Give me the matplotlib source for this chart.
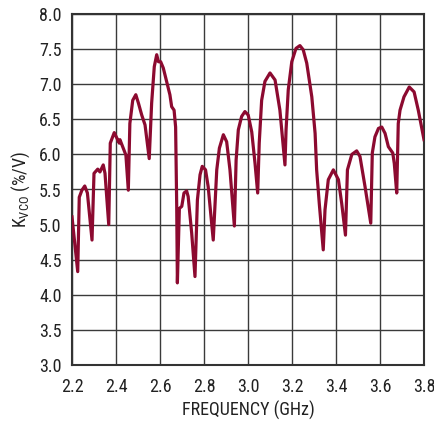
import matplotlib
matplotlib.use("Agg")
import matplotlib.pyplot as plt

freq_ghz = [2.200, 2.226, 2.233, 2.245, 2.258, 2.270, 2.291, 2.300, 2.317, 2.327,
            2.342, 2.350, 2.367, 2.374, 2.392, 2.415, 2.418, 2.445, 2.456, 2.463,
            2.476, 2.490, 2.502, 2.517, 2.532, 2.551, 2.562, 2.574, 2.585, 2.593,
            2.603, 2.615, 2.630, 2.645, 2.653, 2.664, 2.671, 2.676, 2.679, 2.688,
            2.699, 2.709, 2.721, 2.728, 2.744, 2.759, 2.770, 2.782, 2.792, 2.807,
            2.819, 2.842, 2.858, 2.870, 2.888, 2.903, 2.918, 2.938, 2.946, 2.956,
            2.971, 2.986, 3.001, 3.017, 3.032, 3.044, 3.051, 3.062, 3.077, 3.100,
            3.123, 3.145, 3.168, 3.173, 3.183, 3.199, 3.218, 3.236, 3.251, 3.267,
            3.290, 3.305, 3.312, 3.324, 3.342, 3.350, 3.365, 3.388, 3.411, 3.426,
            3.443, 3.452, 3.472, 3.494, 3.509, 3.532, 3.558, 3.565, 3.577, 3.593,
            3.608, 3.623, 3.638, 3.658, 3.665, 3.676, 3.683, 3.691, 3.709, 3.733,
            3.755, 3.774, 3.800]
kvco = [5.11, 4.33, 5.39, 5.49, 5.55, 5.45, 4.78, 5.73, 5.79, 5.75,
        5.85, 5.73, 5.00, 6.16, 6.31, 6.16, 6.21, 5.99, 5.49, 6.44,
        6.77, 6.85, 6.73, 6.56, 6.42, 5.94, 6.73, 7.25, 7.42, 7.32,
        7.32, 7.23, 7.04, 6.85, 6.68, 6.63, 6.39, 5.25, 4.17, 5.23,
        5.26, 5.45, 5.48, 5.40, 4.88, 4.26, 5.35, 5.71, 5.83, 5.78,
        5.54, 4.78, 5.78, 6.09, 6.28, 6.18, 5.78, 4.98, 5.92, 6.35,
        6.54, 6.61, 6.56, 6.32, 5.87, 5.45, 6.16, 6.77, 7.04, 7.16,
        7.06, 6.63, 5.85, 6.35, 6.92, 7.32, 7.51, 7.55, 7.49, 7.30,
        6.82, 6.30, 5.78, 5.30, 4.64, 5.21, 5.64, 5.78, 5.64, 5.30,
        4.85, 5.78, 6.00, 6.05, 5.97, 5.54, 5.02, 6.02, 6.25, 6.37,
        6.39, 6.30, 6.11, 6.02, 5.87, 5.45, 6.44, 6.63, 6.82, 6.96,
        6.89, 6.63, 6.21]

x_ticks = [2.2, 2.4, 2.6, 2.8, 3.0, 3.2, 3.4, 3.6, 3.8]
y_ticks = [3.0, 3.5, 4.0, 4.5, 5.0, 5.5, 6.0, 6.5, 7.0, 7.5, 8.0]

from matplotlib import font_manager as fm
available = {f.name for f in fm.fontManager.ttflist}
main_font = next((n for n in ['Roboto Condensed', 'Archivo Narrow', 'PT Sans Narrow',
                              'Liberation Sans Narrow', 'DejaVu Sans'] if n in available),
                 'DejaVu Sans')
plt.rcParams['font.family'] = [main_font, 'DejaVu Sans']
plt.rcParams['mathtext.fontset'] = 'custom'
plt.rcParams['mathtext.rm'] = main_font

fig = plt.figure(figsize=(4.35, 4.23), dpi=100)
ax = fig.add_axes([72/435, 58/423, 352/435, 351/423])

ax.plot(freq_ghz, kvco, color='#8c0a30', lw=2.3, solid_joinstyle='round', zorder=3)

ax.set_xlim(2.2, 3.8)
ax.set_ylim(3.0, 8.0)
ax.set_xticks(x_ticks)
ax.set_xticklabels([f"{v:.1f}" for v in x_ticks])
ax.set_yticks(y_ticks)
ax.set_yticklabels([f"{v:.1f}" for v in y_ticks])
ax.grid(True, color='#3a3a3a', lw=1.0)
ax.set_axisbelow(True)
ax.tick_params(length=0, labelsize=13, colors='#222222')
ax.tick_params(axis='x', pad=9)
ax.tick_params(axis='y', pad=7.5)
for s in ax.spines.values():
    s.set_color('#333333')
    s.set_linewidth(1.5)

ax.set_xlabel('FREQUENCY (GHz)', fontsize=13, color='#222222', labelpad=3.5)
ax.set_ylabel(r'K$_{\mathrm{VCO}}$ (%/V)', fontsize=13, color='#222222', labelpad=5)

fig.savefig('out.png', dpi=100)
